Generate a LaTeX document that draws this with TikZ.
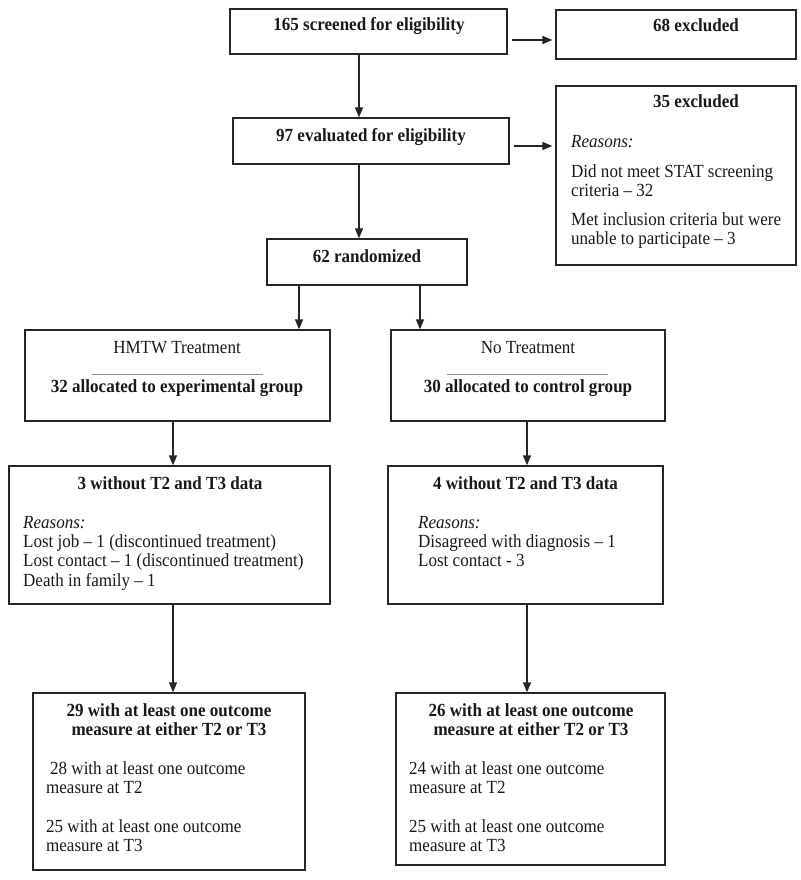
\documentclass[tikz,border=0pt]{standalone}
\usepackage{fontspec}
\setmainfont{Liberation Serif}[FakeStretch=0.92]
\usetikzlibrary{arrows.meta,fit}
\begin{document}
\begin{tikzpicture}[x=1pt,y=-1pt,
  box/.style={draw=black!85, line width=1.3pt, inner sep=0pt},
  arr/.style={draw=black!85, line width=1.3pt, -{Triangle[length=10pt,width=8pt]}},
  txt/.style={inner sep=0pt, text=black!90, font=\fontsize{18.5}{20}\selectfont, anchor=base west},
  cen/.style={inner sep=0pt, text=black!90, font=\fontsize{18.5}{20}\selectfont, anchor=base},
  ttl/.style={inner sep=0pt, text=black!90, font=\fontsize{18.5}{20}\selectfont\bfseries, anchor=base},
  rulel/.style={draw=black!45, line width=0.8pt}
]
\useasboundingbox (0,0) rectangle (800,880);

% boxes
\node[box, fit={(230,9) (507,54)}] (A) {};
\node[box, fit={(556,10) (796,59)}] (B) {};
\node[box, fit={(233,118) (509,164)}] (C) {};
\node[box, fit={(556,86) (796,265)}] (D) {};
\node[box, fit={(267,239) (467,285)}] (E) {};
\node[box, fit={(25,330) (330,421)}] (F) {};
\node[box, fit={(391,330) (665,421)}] (G) {};
\node[box, fit={(9,466) (330,604)}] (H) {};
\node[box, fit={(388,466) (663,604)}] (I) {};
\node[box, fit={(33,693) (305,870)}] (J) {};
\node[box, fit={(396,693) (665,865)}] (K) {};

% arrows
\draw[arr] (A.south -| 359,0) -- (C.north -| 359,0);
\draw[arr] (C.south -| 359,0) -- (E.north -| 359,0);
\draw[arr, shorten <=4pt, shorten >=3pt] (A.east |- 0,40) -- (B.west |- 0,40);
\draw[arr, shorten <=4pt, shorten >=3pt] (C.east |- 0,146) -- (D.west |- 0,146);
\draw[arr] (E.south -| 299,0) -- (F.north -| 299,0);
\draw[arr] (E.south -| 420,0) -- (G.north -| 420,0);
\draw[arr] (F.south -| 173,0) -- (H.north -| 173,0);
\draw[arr] (G.south -| 527,0) -- (I.north -| 527,0);
\draw[arr] (H.south -| 173,0) -- (J.north -| 173,0);
\draw[arr] (I.south -| 527,0) -- (K.north -| 527,0);

% texts
\node[ttl] (tA) at (369,31) {165 screened for eligibility};
\node[ttl] (tB) at (696,32) {68 excluded};
\node[ttl] (tC) at (371,141.5) {97 evaluated for eligibility};
\node[ttl] (tD) at (696,108) {35 excluded};
\node[txt] (tD1) at (571,147) {\textit{Reasons:}};
\node[txt] (tD2) at (571,177) {Did not meet STAT screening};
\node[txt] (tD3) at (571,196) {criteria – 32};
\node[txt] (tD4) at (571,225) {Met inclusion criteria but were};
\node[txt] (tD5) at (571,244) {unable to participate – 3};
\node[ttl] (tE) at (367,262) {62 randomized};

\node[cen] (tF1) at (177,353) {HMTW Treatment};
\draw[rulel] (92,374) -- (263,374);
\node[ttl] (tF2) at (177,392) {32 allocated to experimental group};
\node[cen] (tG1) at (528,353) {No Treatment};
\draw[rulel] (447,374) -- (608,374);
\node[ttl] (tG2) at (528,392) {30 allocated to control group};

\node[ttl] (tH) at (170,489) {3 without T2 and T3 data};
\node[txt] (tH1) at (23,528) {\textit{Reasons:}};
\node[txt] (tH2) at (23,547) {Lost job – 1 (discontinued treatment)};
\node[txt] (tH3) at (23,566.5) {Lost contact – 1 (discontinued treatment)};
\node[txt] (tH4) at (23,586) {Death in family – 1};

\node[ttl] (tI) at (525.5,489) {4 without T2 and T3 data};
\node[txt] (tI1) at (418,528) {\textit{Reasons:}};
\node[txt] (tI2) at (418,547) {Disagreed with diagnosis – 1};
\node[txt] (tI3) at (418,566.5) {Lost contact - 3};

\node[ttl] (tJ1) at (169,716) {29 with at least one outcome};
\node[ttl] (tJ2) at (169,735) {measure at either T2 or T3};
\node[txt] (tJ3) at (50,774) {28 with at least one outcome};
\node[txt] (tJ4) at (46,793) {measure at T2};
\node[txt] (tJ5) at (46,832) {25 with at least one outcome};
\node[txt] (tJ6) at (46,851) {measure at T3};

\node[ttl] (tK1) at (531,716) {26 with at least one outcome};
\node[ttl] (tK2) at (531,735) {measure at either T2 or T3};
\node[txt] (tK3) at (409,774) {24 with at least one outcome};
\node[txt] (tK4) at (409,793) {measure at T2};
\node[txt] (tK5) at (409,832) {25 with at least one outcome};
\node[txt] (tK6) at (409,851) {measure at T3};
\end{tikzpicture}
\end{document}
